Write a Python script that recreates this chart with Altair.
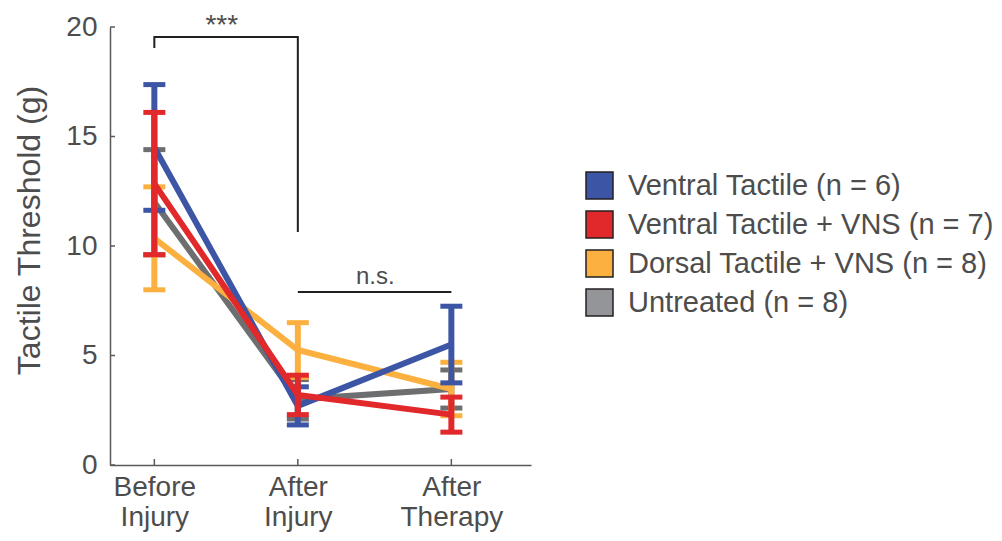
import altair as alt
import pandas as pd

# ---------------- data ----------------
stages = ["Before Injury", "After Injury", "After Therapy"]
stage_pos = [1, 2, 3.07]
groups = [
    "Ventral Tactile (n = 6)",
    "Ventral Tactile + VNS (n = 7)",
    "Dorsal Tactile + VNS (n = 8)",
    "Untreated (n = 8)",
]
line_colors = ["#3C55A5", "#E1282B", "#FBB040", "#6D6E70"]
legend_colors = ["#3C55A5", "#E1282B", "#FBB040", "#939598"]

mean_vt = [14.5, 2.7, 5.5]
sem_vt = [2.87, 0.87, 1.75]
mean_vtv = [12.85, 3.2, 2.3]
sem_vtv = [3.25, 0.9, 0.8]
mean_dt = [10.35, 5.25, 3.47]
sem_dt = [2.35, 1.25, 1.22]
mean_un = [12.0, 3.0, 3.47]
sem_un = [2.4, 0.9, 0.87]

means = [mean_vt, mean_vtv, mean_dt, mean_un]
sems = [sem_vt, sem_vtv, sem_dt, sem_un]
draw_order = [3, 2, 0, 1]  # gray, orange, blue, red (red on top)

y_ticks = [0, 5, 10, 15, 20]

bracket_x = [1, 1, 2, 2]
bracket_y = [19.04, 19.54, 19.54, 10.64]
star_text = "***"
star_x, star_y = 1.47, 19.68
ns_x = [2, 3.07]
ns_y = 7.9
ns_text = "n.s."
ns_text_x, ns_text_y = 2.54, 8.6

# ---------------- tables ----------------
rows = []
for g, name in enumerate(groups):
    for s, stage in enumerate(stages):
        m, e = means[g][s], sems[g][s]
        rows.append({"group": name, "gi": g, "stage": stage, "pos": stage_pos[s],
                     "mean": m, "lo": m - e, "hi": m + e})
df = pd.DataFrame(rows)

FONT = "Liberation Sans"
TXT = "#4D4D4D"
AX = "#595959"

xscale = alt.Scale(domain=[0.691, 3.625], nice=False, zero=False)
yscale = alt.Scale(domain=[0, 20], nice=False, zero=False)

label_map = " : ".join(
    f"datum.value < {p + 0.5} ? {str(s.split(' '))}" for p, s in zip(stage_pos[:-1], stages[:-1])
) + f" : {str(stages[-1].split(' '))}"

x_axis = alt.Axis(values=stage_pos, ticks=False, grid=False, title=None,
                  labelExpr=label_map, labelFontSize=28, labelFont=FONT,
                  labelColor=TXT, labelPadding=8, labelLineHeight=30,
                  domainColor=AX, domainWidth=1.5, labelAngle=0)
y_axis = alt.Axis(values=y_ticks, ticks=False, grid=False,
                  title="Tactile Threshold (g)", titleFontSize=32,
                  titleFont=FONT, titleFontWeight="normal", titleColor=TXT,
                  titlePadding=19, titleY=203, labelFontSize=28, labelFont=FONT,
                  labelColor=TXT, labelPadding=13, domainColor=AX, domainWidth=1.5)

base = alt.Chart(df)

# legend-carrying layer (tiny squares hidden under the lines)
legend_layer = base.mark_square(size=1, stroke="#231F20", strokeWidth=1, opacity=1).encode(
    x=alt.X("pos:Q", scale=xscale, axis=x_axis),
    y=alt.Y("mean:Q", scale=yscale, axis=y_axis),
    fill=alt.Fill("group:N", scale=alt.Scale(domain=groups, range=legend_colors),
                  legend=alt.Legend(title=None, orient="none", legendX=475, legendY=144,
                                    symbolType="square", symbolSize=729,
                                    symbolStrokeColor="#231F20", symbolStrokeWidth=1.5,
                                    labelFontSize=29, labelFont=FONT, labelColor=TXT,
                                    labelOffset=14, rowPadding=6, padding=0,
                                    labelLimit=600)),
)

layers = [legend_layer]
for g in draw_order:
    sub = base.transform_filter(alt.datum.gi == g)
    col = line_colors[g]
    line = sub.mark_line(strokeWidth=6, color=col, opacity=1).encode(
        x=alt.X("pos:Q", scale=xscale), y=alt.Y("mean:Q", scale=yscale))
    rule = sub.mark_rule(strokeWidth=6, color=col, opacity=1).encode(
        x=alt.X("pos:Q", scale=xscale), y=alt.Y("lo:Q", scale=yscale), y2="hi:Q")
    caps = sub.transform_fold(["lo", "hi"], as_=["k", "v"]).mark_tick(
        orient="horizontal", size=22, thickness=5, color=col, opacity=1).encode(
        x=alt.X("pos:Q", scale=xscale), y=alt.Y("v:Q", scale=yscale))
    layers += [line, rule, caps]

# inward ticks
ytick_df = pd.DataFrame({"v": y_ticks})
ytick_layer = alt.Chart(ytick_df).mark_rule(color=AX, strokeWidth=1.5).encode(
    y=alt.Y("v:Q", scale=yscale), x=alt.value(0), x2=alt.value(5))
xtick_df = pd.DataFrame({"p": stage_pos})
xtick_layer = alt.Chart(xtick_df).mark_rule(color=AX, strokeWidth=1.5).encode(
    x=alt.X("p:Q", scale=xscale), y=alt.value(438), y2=alt.value(432))

# significance annotations
br_df = pd.DataFrame({"x": bracket_x, "y": bracket_y, "o": list(range(len(bracket_x)))})
bracket = alt.Chart(br_df).mark_line(color="#231F20", strokeWidth=2).encode(
    x=alt.X("x:Q", scale=xscale), y=alt.Y("y:Q", scale=yscale), order="o:Q")
star = alt.Chart(pd.DataFrame({"x": [star_x], "y": [star_y], "t": [star_text]})).mark_text(
    fontSize=28, font=FONT, color=TXT, baseline="alphabetic").encode(
    x=alt.X("x:Q", scale=xscale), y=alt.Y("y:Q", scale=yscale), text="t:N")
ns_line = alt.Chart(pd.DataFrame({"x": [ns_x[0]], "x2": [ns_x[1]], "y": [ns_y]})).mark_rule(
    color="#231F20", strokeWidth=2).encode(
    x=alt.X("x:Q", scale=xscale), x2="x2:Q", y=alt.Y("y:Q", scale=yscale))
ns_lbl = alt.Chart(pd.DataFrame({"x": [ns_text_x], "y": [ns_text_y], "t": [ns_text]})).mark_text(
    fontSize=24, font=FONT, color=TXT).encode(
    x=alt.X("x:Q", scale=xscale), y=alt.Y("y:Q", scale=yscale), text="t:N")

layers += [ytick_layer, xtick_layer, bracket, star, ns_line, ns_lbl]

chart = alt.layer(*layers).properties(
    width=421, height=438,
    padding={"left": 102, "top": 19, "right": 463, "bottom": 68},
    autosize=alt.AutoSizeParams(type="none"),
    background="white",
).configure_view(stroke=None)

chart.save("out.html", embed_options={"renderer": "svg", "actions": False})
